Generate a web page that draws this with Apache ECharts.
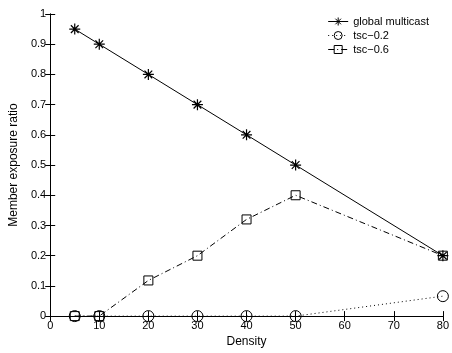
<!DOCTYPE html>
<html><head><meta charset="utf-8">
<script src="https://cdn.jsdelivr.net/npm/echarts@6/dist/echarts.min.js"></script>
<style>html,body{margin:0;padding:0;background:#fff}#c{width:452px;height:353px}</style>
</head><body><div id="c"></div>
<script>
const density = [5, 10, 20, 30, 40, 50, 80];
const globalMulticast = [0.95, 0.9, 0.8, 0.7, 0.6, 0.5, 0.2];
const tsc02 = [0, 0, 0, 0, 0, 0, 0.066];
const tsc06 = [0, 0, 0.118, 0.2, 0.32, 0.4, 0.2];
const seriesNames = ['global multicast', 'tsc\u22120.2', 'tsc\u22120.6'];
const xTicks = [0, 10, 20, 30, 40, 50, 60, 70, 80];
const yTicks = [0, 0.1, 0.2, 0.3, 0.4, 0.5, 0.6, 0.7, 0.8, 0.9, 1];

const pair = (ys) => density.map((x, i) => [x, ys[i]]);
const font = 'Liberation Sans';
const star = 'path://M0,-1L0,1M-1,0L1,0M-0.7,-0.7L0.7,0.7M-0.7,0.7L0.7,-0.7';

const axCommon = {
  axisLine: {show: true, lineStyle: {color: '#000', width: 1}},
  axisTick: {show: true, inside: true, length: 5, lineStyle: {color: '#000'}},
  splitLine: {show: false}
};
const chart = echarts.init(document.getElementById('c'), null, {renderer: 'canvas'});
chart.setOption({
  animation: false,
  textStyle: {fontFamily: font},
  grid: {left: 47, right: 8, top: 14, bottom: 35, containLabel: false},
  legend: {
    right: 18, top: 11, orient: 'vertical', itemGap: 3, itemWidth: 20, itemHeight: 10,
    textStyle: {fontFamily: font, fontSize: 11, color: '#000'},
    lineStyle: {width: 1},
    itemStyle: {borderWidth: 1},
    data: seriesNames
  },
  xAxis: [
    Object.assign({type: 'value', min: 0, max: 80, interval: 10, position: 'bottom',
      name: 'Density', nameLocation: 'middle', nameGap: 17,
      nameTextStyle: {fontFamily: font, fontSize: 12, color: '#000'},
      axisLabel: {fontFamily: font, fontSize: 11, color: '#000', margin: 4,
        customValues: xTicks}}, axCommon),
    Object.assign({type: 'value', min: 0, max: 80, interval: 10, position: 'top',
      axisLabel: {show: false}}, axCommon)
  ],
  yAxis: [
    Object.assign({type: 'value', min: 0, max: 1, interval: 0.1, position: 'left',
      name: 'Member exposure ratio', nameLocation: 'middle', nameGap: 24,
      nameTextStyle: {fontFamily: font, fontSize: 12, color: '#000'},
      axisLabel: {fontFamily: font, fontSize: 11, color: '#000', margin: 4,
        formatter: v => String(Math.round(v * 10) / 10)}}, axCommon),
    Object.assign({type: 'value', min: 0, max: 1, interval: 0.1, position: 'right',
      axisLabel: {show: false}}, axCommon)
  ],
  series: [
    {name: seriesNames[0], type: 'line', data: pair(globalMulticast),
      symbol: star, symbolSize: 11, showAllSymbol: true,
      lineStyle: {color: '#000', width: 1, type: 'solid'},
      itemStyle: {color: '#000', borderColor: '#000', borderWidth: 1.2}},
    {name: seriesNames[1], type: 'line', data: pair(tsc02),
      symbol: 'circle', symbolSize: 11,
      lineStyle: {color: '#000', width: 1, type: [1, 3]},
      itemStyle: {color: 'rgba(255,255,255,0)', borderColor: '#000', borderWidth: 1}},
    {name: seriesNames[2], type: 'line', data: pair(tsc06),
      symbol: 'rect', symbolSize: 9,
      lineStyle: {color: '#000', width: 1, type: [6, 3, 1, 3]},
      itemStyle: {color: 'rgba(255,255,255,0)', borderColor: '#000', borderWidth: 1}}
  ]
});
</script></body></html>
